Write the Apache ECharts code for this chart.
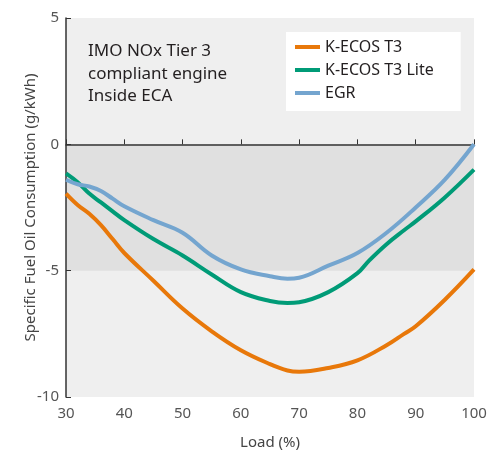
<!DOCTYPE html>
<html>
<head>
<meta charset="utf-8">
<script src="https://cdn.jsdelivr.net/npm/echarts@6/dist/echarts.min.js"></script>
<style>
html,body{margin:0;padding:0;background:#fff;}
#chart{width:487px;height:450px;}
</style>
</head>
<body>
<div id="chart"></div>
<script>
const seriesNames = ['K-ECOS T3', 'K-ECOS T3 Lite', 'EGR'];
const loadT3   = [30, 32, 34, 36, 38, 40, 45, 50, 55, 60, 65, 68, 70, 75, 80, 85, 88, 90, 95, 100];
const valuesT3 = [-1.95, -2.4, -2.75, -3.2, -3.75, -4.3, -5.4, -6.5, -7.4, -8.15, -8.7, -8.95, -9.0, -8.85, -8.55, -7.95, -7.5, -7.2, -6.15, -4.95];
const loadLite   = [30, 32, 34, 36, 38, 40, 45, 50, 55, 60, 65, 68, 70, 75, 80, 82, 85, 88, 90, 95, 100];
const valuesLite = [-1.15, -1.5, -1.95, -2.3, -2.65, -3.0, -3.75, -4.4, -5.15, -5.85, -6.2, -6.28, -6.25, -5.85, -5.1, -4.6, -3.95, -3.4, -3.05, -2.1, -1.0];
const loadEGR   = [30, 32, 34, 36, 38, 40, 45, 50, 55, 60, 65, 68, 70, 75, 80, 85, 90, 95, 100];
const valuesEGR = [-1.4, -1.58, -1.67, -1.85, -2.15, -2.45, -3.0, -3.5, -4.4, -4.95, -5.22, -5.32, -5.28, -4.8, -4.3, -3.5, -2.5, -1.4, 0];
const xTicks = [30, 40, 50, 60, 70, 80, 90, 100];
const yTicks = [-10, -5, 0, 5];
const annotation = 'IMO NOx Tier 3\ncompliant engine\nInside ECA';
const colors = ['#E8780A', '#009B77', '#74A5CF'];

const pair = (xs, ys) => xs.map((x, i) => [x, ys[i]]);
const FONT = 'Noto Sans';

const chart = echarts.init(document.getElementById('chart'));
chart.setOption({
  animation: false,
  textStyle: { fontFamily: FONT },
  grid: { left: 66, right: 13, top: 18, bottom: 53, show: true, backgroundColor: '#efefef', borderWidth: 0, containLabel: false, outerBoundsMode: 'none' },
  legend: {
    orient: 'vertical', left: 286, top: 32,
    backgroundColor: '#ffffff', borderRadius: 0,
    padding: [7, 27, 10, 9],
    itemWidth: 25, itemHeight: 4, itemGap: 7, icon: 'rect',
    textStyle: { fontSize: 16, color: '#231f20', fontFamily: FONT },
    data: seriesNames
  },
  graphic: [{
    type: 'text', left: 88, top: 40,
    style: { text: annotation, font: '17px "Noto Sans"', fill: '#231f20', lineHeight: 22.5 }
  }],
  xAxis: {
    type: 'value', min: 30, max: 100, interval: 10,
    name: 'Load (%)', nameLocation: 'middle', nameGap: 38, nameMoveOverlap: false,
    nameTextStyle: { fontSize: 15, color: '#444' },
    axisLine: { show: true, lineStyle: { color: '#333', width: 1.5 } },
    axisTick: { show: true, inside: true, length: 5, lineStyle: { color: '#333' } },
    axisLabel: { fontSize: 15, color: '#555', margin: 9, customValues: xTicks },
    splitLine: { show: false }
  },
  yAxis: {
    type: 'value', min: -10, max: 5, interval: 5,
    name: 'Specific Fuel Oil Consumption (g/kWh)', nameLocation: 'middle', nameGap: 28, nameMoveOverlap: false,
    nameTextStyle: { fontSize: 15, color: '#444' },
    axisLine: { show: true, lineStyle: { color: '#333', width: 1.5 } },
    axisTick: { show: true, inside: true, length: 5, lineStyle: { color: '#333' } },
    axisLabel: { fontSize: 15, color: '#555', margin: 7, customValues: yTicks },
    splitLine: { show: false }
  },
  series: [
    {
      name: seriesNames[0], type: 'line', smooth: 0.4, symbol: 'none', z: 3,
      data: pair(loadT3, valuesT3),
      lineStyle: { color: colors[0], width: 4 }, itemStyle: { color: colors[0] },
      markArea: {
        silent: true, z: 0,
        itemStyle: { color: '#e0e0e0' },
        data: [[{ yAxis: 0 }, { yAxis: -5 }]]
      }
    },
    {
      name: seriesNames[1], type: 'line', smooth: 0.4, symbol: 'none', z: 3,
      data: pair(loadLite, valuesLite),
      lineStyle: { color: colors[1], width: 4 }, itemStyle: { color: colors[1] }
    },
    {
      name: seriesNames[2], type: 'line', smooth: 0.4, symbol: 'none', z: 3,
      data: pair(loadEGR, valuesEGR),
      lineStyle: { color: colors[2], width: 4 }, itemStyle: { color: colors[2] }
    }
  ]
});
</script>
</body>
</html>
